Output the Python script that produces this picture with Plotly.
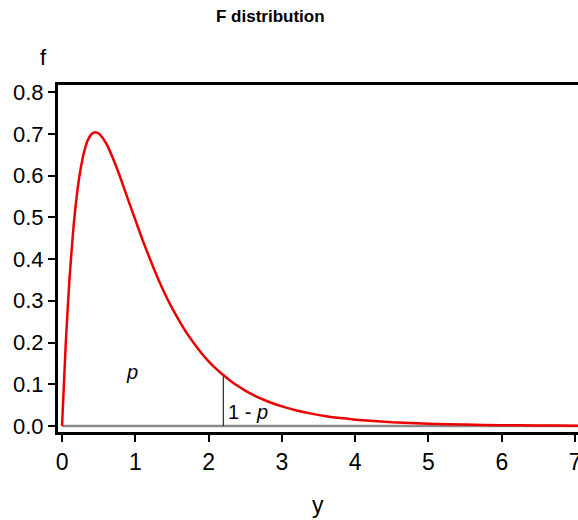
import plotly.graph_objects as go

# F-distribution density
x_vals = [0, 0.05, 0.1, 0.15, 0.2, 0.25, 0.3, 0.35, 0.4, 0.45, 0.5, 0.6, 0.7, 0.8, 0.9,
          1.0, 1.1, 1.2, 1.3, 1.4, 1.5, 1.6, 1.7, 1.8, 1.9, 2.0, 2.1, 2.2, 2.3, 2.4,
          2.5, 2.6, 2.7, 2.8, 2.9, 3.0, 3.2, 3.4, 3.6, 3.8, 4.0, 4.5, 5.0, 5.5, 6.0,
          6.5, 7.0, 7.1]
f_vals = [0, 0.195, 0.347, 0.463, 0.550, 0.612, 0.656, 0.684, 0.699, 0.704, 0.701,
          0.678, 0.639, 0.593, 0.543, 0.494, 0.445, 0.400, 0.357, 0.318, 0.283, 0.252,
          0.223, 0.198, 0.175, 0.155, 0.1375, 0.122, 0.108, 0.0957, 0.0848, 0.0752,
          0.0668, 0.0593, 0.0527, 0.0469, 0.0372, 0.0296, 0.0236, 0.0189, 0.0152,
          0.00895, 0.00537, 0.00329, 0.00206, 0.00131, 0.00084, 0.0008]

cut_x = 2.2
cut_f = 0.122

x_ticks = [0, 1, 2, 3, 4, 5, 6, 7]
y_ticks = [0.0, 0.1, 0.2, 0.3, 0.4, 0.5, 0.6, 0.7, 0.8]
y_tick_text = ["0.0", "0.1", "0.2", "0.3", "0.4", "0.5", "0.6", "0.7", "0.8"]

FONT = "Liberation Sans, Arial, sans-serif"

fig = go.Figure()
# baseline
fig.add_trace(go.Scatter(x=[0, 7.1], y=[0, 0], mode="lines",
                         line=dict(color="#8a8a8a", width=2.5), hoverinfo="skip"))
# cut line
fig.add_trace(go.Scatter(x=[cut_x, cut_x], y=[0, cut_f], mode="lines",
                         line=dict(color="black", width=1), hoverinfo="skip"))
# density
fig.add_trace(go.Scatter(x=x_vals, y=f_vals, mode="lines",
                         line=dict(color="#ee0000", width=2.5, shape="spline", smoothing=0.6)))

fig.update_layout(
    width=578, height=520,
    margin=dict(l=58, r=0, t=85, b=88),
    paper_bgcolor="white", plot_bgcolor="white",
    showlegend=False,
    font=dict(family=FONT, color="black", size=22),
    xaxis=dict(range=[-0.055, 7.04], tickvals=x_ticks, ticktext=[str(v) for v in x_ticks],
               showline=True, linecolor="black", linewidth=3, mirror=True,
               ticks="outside", ticklen=7, tickwidth=2, tickcolor="black",
               showgrid=False, zeroline=False, tickfont=dict(size=23),
               ticklabeloverflow="allow", automargin=False),
    yaxis=dict(range=[-0.0144, 0.817], tickvals=y_ticks, ticktext=y_tick_text,
               showline=True, linecolor="black", linewidth=3, mirror=False,
               ticks="outside", ticklen=7, tickwidth=2, tickcolor="black",
               showgrid=False, zeroline=False, tickfont=dict(size=22), automargin=False),
    annotations=[
        dict(text="<b>F distribution</b>", xref="paper", yref="paper",
             x=(270 - 58) / 520, y=(432 - 17) / 347, xanchor="center", yanchor="middle",
             showarrow=False, font=dict(size=17)),
        dict(text="f", xref="paper", yref="paper",
             x=(43 - 58) / 520, y=(432 - 58) / 347, xanchor="center", yanchor="middle",
             showarrow=False, font=dict(size=22)),
        dict(text="y", xref="paper", yref="paper",
             x=(318 - 58) / 520, y=(432 - 505) / 347, xanchor="center", yanchor="middle",
             showarrow=False, font=dict(size=23)),
        dict(text="<i>p</i>", xref="x", yref="y", x=0.95, y=0.13,
             xanchor="center", yanchor="middle", showarrow=False, font=dict(size=20)),
        dict(text="1 - <i>p</i>", xref="x", yref="y", x=2.24, y=0.034,
             xanchor="left", yanchor="middle", showarrow=False, font=dict(size=20)),
    ],
)

fig.write_html("out.html", config={"displayModeBar": False},
               post_script="document.body.style.margin='0';")
